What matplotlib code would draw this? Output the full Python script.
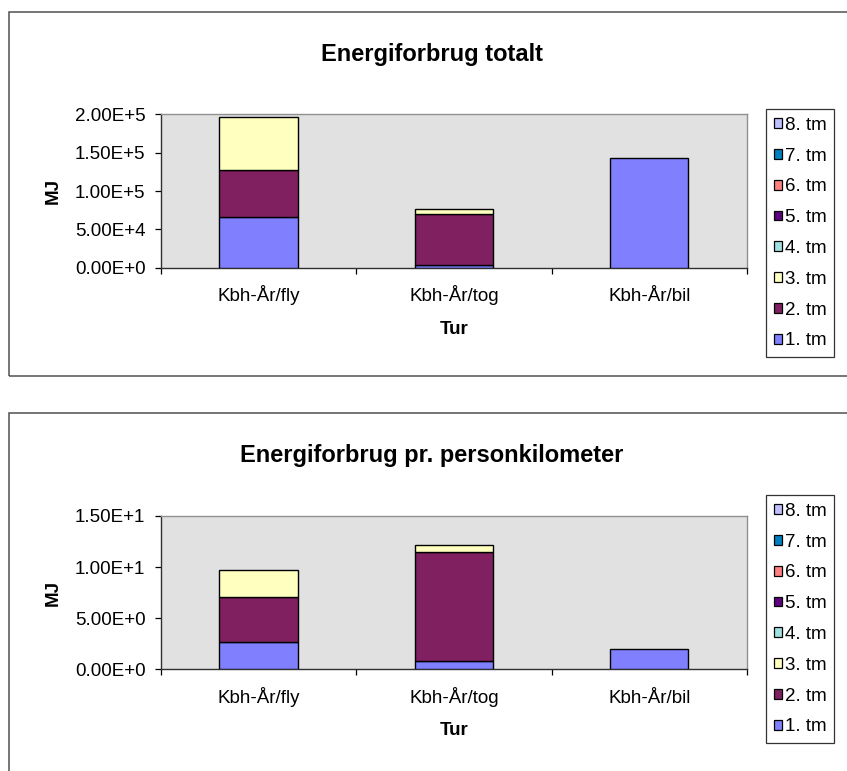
import matplotlib
matplotlib.use("Agg")
import matplotlib.pyplot as plt
from matplotlib.patches import Rectangle, Patch
from matplotlib.ticker import FuncFormatter, FixedLocator
import numpy as np

plt.rcParams['font.family'] = ['Liberation Sans', 'DejaVu Sans']

# ---- data -------------------------------------------------------------
trips = ["Kbh-År/fly", "Kbh-År/tog", "Kbh-År/bil"]
stages = ["1. tm", "2. tm", "3. tm", "4. tm", "5. tm", "6. tm", "7. tm", "8. tm"]
stage_colors = ["#8080FF", "#802060", "#FFFFC0", "#A0E0E0",
                "#600080", "#FF8080", "#0080C0", "#C0C0FF"]

# total energy use [MJ], one list per stage (fly, tog, bil)
total_1 = [6.60e4, 3.5e3, 1.43e5]
total_2 = [6.15e4, 6.65e4, 0.0]
total_3 = [6.90e4, 6.0e3, 0.0]
total_4 = [0.0, 0.0, 0.0]
total_5 = [0.0, 0.0, 0.0]
total_6 = [0.0, 0.0, 0.0]
total_7 = [0.0, 0.0, 0.0]
total_8 = [0.0, 0.0, 0.0]

# energy use per person-kilometre [MJ]
pkm_1 = [2.65, 0.81, 2.00]
pkm_2 = [4.39, 10.65, 0.0]
pkm_3 = [2.71, 0.71, 0.0]
pkm_4 = [0.0, 0.0, 0.0]
pkm_5 = [0.0, 0.0, 0.0]
pkm_6 = [0.0, 0.0, 0.0]
pkm_7 = [0.0, 0.0, 0.0]
pkm_8 = [0.0, 0.0, 0.0]

total_series = [total_1, total_2, total_3, total_4, total_5, total_6, total_7, total_8]
pkm_series = [pkm_1, pkm_2, pkm_3, pkm_4, pkm_5, pkm_6, pkm_7, pkm_8]

total_ticks = [0, 5e4, 1e5, 1.5e5, 2e5]
pkm_ticks = [0, 5, 10, 15]

# ---- layout helpers ---------------------------------------------------
W, H = 847, 771
fig = plt.figure(figsize=(W / 100, H / 100), dpi=100)
fig.patch.set_facecolor("white")


def box(l, t, r, b):
    return [l / W, 1 - b / H, (r - l) / W, (b - t) / H]


def sci(v, _pos=None):
    if v == 0:
        return "0.00E+0"
    e = int(np.floor(np.log10(abs(v))))
    m = v / 10 ** e
    return f"{m:.2f}E{e:+d}"


LABEL_FS = 13.5
TITLE_FS = 17


def chart(top, legend_top, title, series, ticks):
    # chart area border
    fig.add_artist(Rectangle((8.5 / W, 1 - (top + 364) / H), 2.0, 364 / H,
                             transform=fig.transFigure, fill=False,
                             edgecolor="#505050", linewidth=1.1))

    ax = fig.add_axes(box(160.7, top + 102.6, 747, top + 256))
    ax.set_facecolor("#E1E1E1")
    x = np.arange(len(trips))
    bottom = np.zeros(len(trips))
    handles = []
    for name, col, vals in zip(stages, stage_colors, series):
        vals = np.asarray(vals, dtype=float)
        nz = vals > 0  # empty segments are not drawn
        if nz.any():
            ax.bar(x[nz], vals[nz], width=0.4, bottom=bottom[nz], color=col,
                   edgecolor="black", linewidth=1.0, zorder=3)
        bottom += vals
        handles.append(Patch(facecolor=col, edgecolor="black", linewidth=0.9, label=name))

    ax.set_xlim(-0.5, 2.5)
    ax.set_ylim(ticks[0], ticks[-1])
    ax.yaxis.set_major_locator(FixedLocator(ticks))
    ax.yaxis.set_major_formatter(FuncFormatter(sci))
    ax.tick_params(axis="y", direction="out", length=4, width=0.9,
                   pad=7, labelsize=LABEL_FS, color="black")

    ax.xaxis.set_major_locator(FixedLocator([-0.5, 0.5, 1.5, 2.5]))
    ax.xaxis.set_major_formatter(FuncFormatter(lambda v, p: ""))
    ax.xaxis.set_minor_locator(FixedLocator(x))
    ax.set_xticklabels(trips, minor=True)
    ax.tick_params(axis="x", which="major", direction="out", length=4.5, width=0.9)
    ax.tick_params(axis="x", which="minor", length=0, pad=24, labelsize=LABEL_FS)
    for lbl in ax.get_xticklabels(minor=True):
        lbl.set_verticalalignment("baseline")

    for s in ("top", "right"):
        ax.spines[s].set_color("#909090")
        ax.spines[s].set_linewidth(1.0)
    for s in ("left", "bottom"):
        ax.spines[s].set_color("#303030")
        ax.spines[s].set_linewidth(1.0)

    fig.text(432 / W, 1 - (top + 42.3) / H, title, ha="center", va="center",
             fontsize=TITLE_FS, fontweight="bold")
    fig.text(53.3 / W, 1 - (top + 179.3) / H, "MJ", ha="center", va="center",
             rotation=90, fontsize=LABEL_FS, fontweight="bold")
    fig.text(454 / W, 1 - (top + 317.3) / H, "Tur", ha="center", va="center",
             fontsize=LABEL_FS, fontweight="bold")

    leg = fig.legend(handles[::-1], [h.get_label() for h in handles[::-1]],
                     loc="upper left",
                     bbox_to_anchor=(766 / W, 1 - legend_top / H),
                     fontsize=LABEL_FS, frameon=True, fancybox=False,
                     handlelength=0.42, handleheight=0.42, handletextpad=0.15,
                     labelspacing=0.735, borderpad=0.42, borderaxespad=0.0)
    leg.get_frame().set_edgecolor("black")
    leg.get_frame().set_linewidth(0.9)
    return ax


chart(11.7, 109, "Energiforbrug totalt", total_series, total_ticks)
chart(413.3, 495, "Energiforbrug pr. personkilometer", pkm_series, pkm_ticks)

fig.savefig("out.png", dpi=100, facecolor="white")
